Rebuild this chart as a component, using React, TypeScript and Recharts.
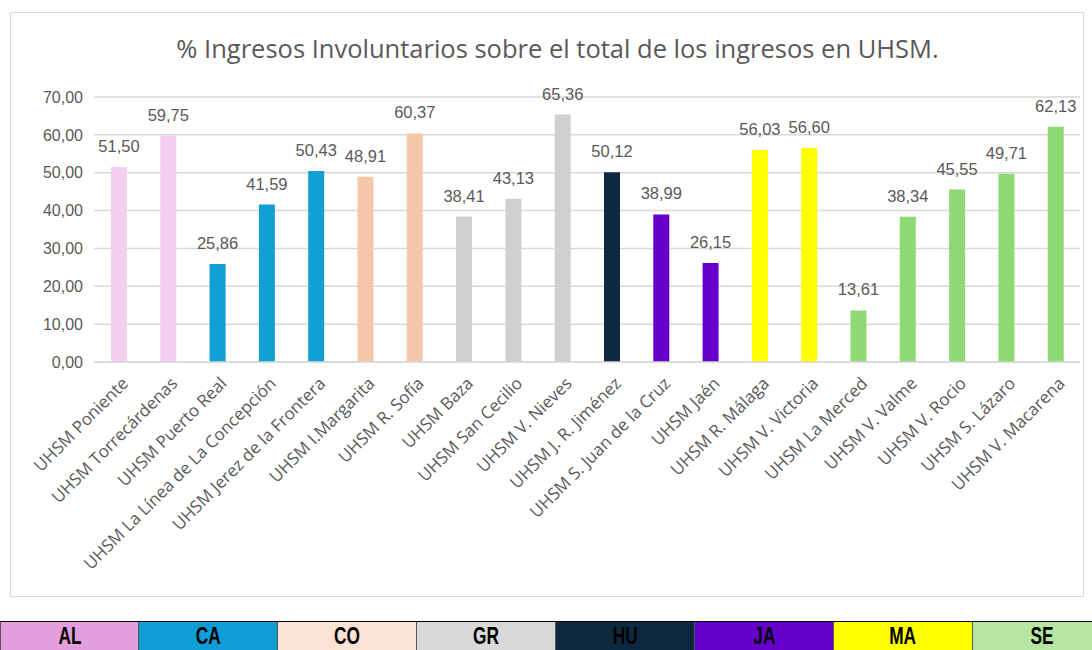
import { BarChart, Bar, XAxis, YAxis, CartesianGrid, Cell, LabelList } from 'recharts'

const unidades = [
    'UHSM Poniente', 'UHSM Torrecárdenas', 'UHSM Puerto Real', 'UHSM La Línea de La Concepción',
    'UHSM Jerez de la Frontera', 'UHSM I.Margarita', 'UHSM R. Sofía', 'UHSM Baza', 'UHSM San Cecilio',
    'UHSM V. Nieves', 'UHSM J. R. Jiménez', 'UHSM S. Juan de la Cruz', 'UHSM Jaén', 'UHSM R. Málaga',
    'UHSM  V. Victoria', 'UHSM La Merced', 'UHSM V. Valme', 'UHSM V. Rocio', 'UHSM S. Lázaro', 'UHSM V. Macarena',
]
const porcentajes = [51.5, 59.75, 25.86, 41.59, 50.43, 48.91, 60.37, 38.41, 43.13, 65.36, 50.12, 38.99, 26.15, 56.03, 56.6, 13.61, 38.34, 45.55, 49.71, 62.13]
const provinciaDeUnidad = ['AL', 'AL', 'CA', 'CA', 'CA', 'CO', 'CO', 'GR', 'GR', 'GR', 'HU', 'JA', 'JA', 'MA', 'MA', 'SE', 'SE', 'SE', 'SE', 'SE']

const provincias = ['AL', 'CA', 'CO', 'GR', 'HU', 'JA', 'MA', 'SE']
const colorBarra: Record<string, string> = {
    AL: '#F2CEEF', CA: '#119FD6', CO: '#F5C6A9', GR: '#D0D0D0', HU: '#0E2841', JA: '#6600CC', MA: '#FFFF00', SE: '#8ED973',
}
const colorLeyenda: Record<string, string> = {
    AL: '#E59EDD', CA: '#0E9ED5', CO: '#FBE2D5', GR: '#D9D9D9', HU: '#0E2841', JA: '#6600CC', MA: '#FFFF00', SE: '#B5E6A2',
}
const yTicks = [0, 10, 20, 30, 40, 50, 60, 70]

const data = unidades.map((u, i) => ({ name: u, value: porcentajes[i], prov: provinciaDeUnidad[i] }))
const fmt = (v: number) => v.toFixed(2).replace('.', ',')
const font = '"Liberation Sans", Arial, sans-serif'

export default function App() {
    return (
        <div style={{ position: 'absolute', left: 0, top: 0, width: 1092, height: 650, background: '#fff', fontFamily: font, overflow: 'hidden' }}>
            <div style={{ position: 'absolute', left: 10, top: 12, width: 1074, height: 585, border: '1px solid #D9D9D9', boxSizing: 'border-box' }} />
            <div style={{ position: 'absolute', left: 10, top: 30, width: 1095, textAlign: 'center', fontSize: 25.5, lineHeight: '36px', color: '#595959', fontFamily: '"Open Sans", sans-serif' }}>
                % Ingresos Involuntarios sobre el total de los ingresos en UHSM.
            </div>
            <div style={{ position: 'absolute', left: 10, top: 12 }}>
                <BarChart width={1075} height={586} data={data} margin={{ top: 85, right: 5, left: 0, bottom: 0 }}>
                    <CartesianGrid vertical={false} stroke="#D9D9D9" strokeWidth={1.5} />
                    <XAxis
                        dataKey="name"
                        interval={0}
                        height={236}
                        axisLine={{ stroke: '#D9D9D9', strokeWidth: 1.5 }}
                        tickLine={false}
                        tick={{ fill: '#595959', fontSize: 17, fontFamily: '"Open Sans", sans-serif', angle: -45, textAnchor: 'end', dx: 2, dy: 6 }}
                    />
                    <YAxis
                        domain={[0, 70]}
                        ticks={yTicks}
                        width={84}
                        axisLine={false}
                        tickLine={false}
                        tickFormatter={fmt}
                        tick={{ fill: '#595959', fontSize: 16, fontFamily: font, dx: -3 }}
                    />
                    <Bar dataKey="value" barSize={16} isAnimationActive={false}>
                        {data.map((d, i) => (
                            <Cell key={i} fill={colorBarra[d.prov]} />
                        ))}
                        <LabelList dataKey="value" position="top" offset={15} formatter={(v: any) => fmt(Number(v))} style={{ fill: '#595959', fontSize: 16.5, fontFamily: font }} />
                    </Bar>
                </BarChart>
            </div>
            <div style={{ position: 'absolute', left: 0, top: 621, width: 1112, height: 29, display: 'flex', borderTop: '1.5px solid #000', boxSizing: 'border-box' }}>
                {provincias.map((p) => (
                    <div
                        key={p}
                        style={{
                            width: 139,
                            boxSizing: 'border-box',
                            background: colorLeyenda[p],
                            borderRight: '1px solid #555',
                            borderLeft: p === 'AL' ? '1px solid #555' : undefined,
                            textAlign: 'center',
                            fontWeight: 'bold',
                            fontSize: 24,
                            lineHeight: '27px',
                            color: '#000',
                        }}
                    >
                        <span style={{ display: 'inline-block', transform: 'scaleX(0.72)' }}>{p}</span>
                    </div>
                ))}
            </div>
        </div>
    )
}
